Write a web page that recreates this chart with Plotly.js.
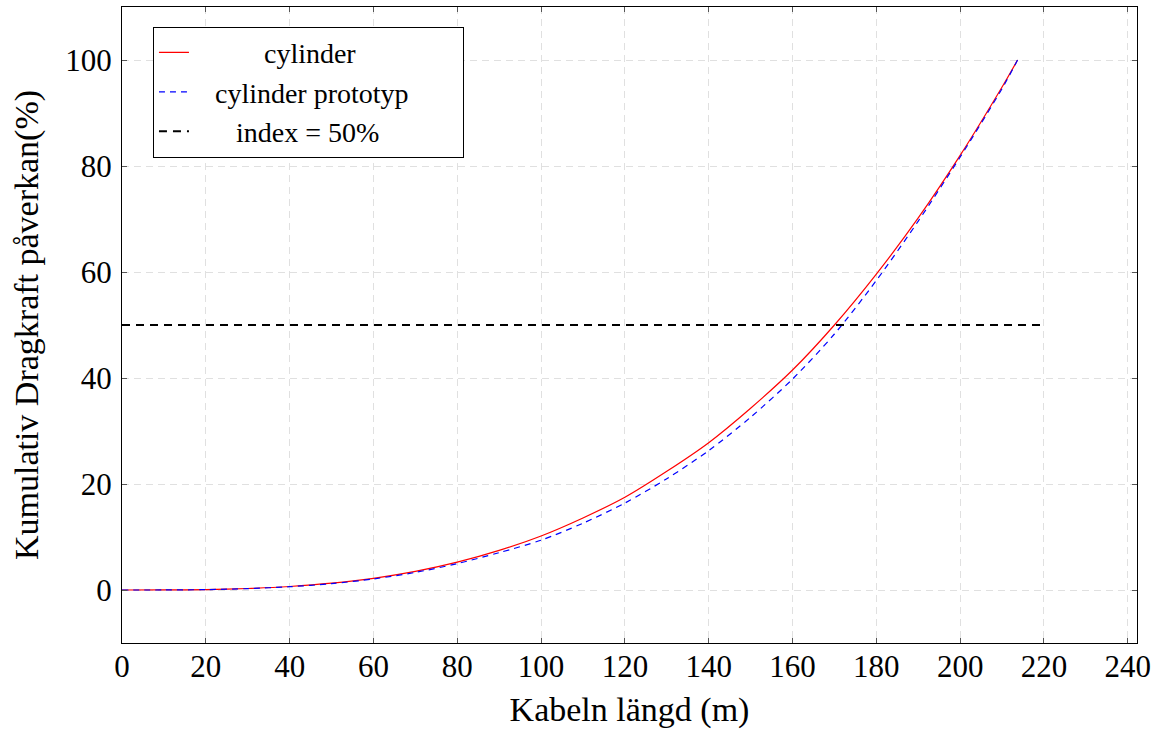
<!DOCTYPE html>
<html>
<head>
<meta charset="utf-8">
<script src="https://cdn.plot.ly/plotly-3.0.1.min.js"></script>
<style>html,body{margin:0;padding:0;background:#fff;}#chart{width:1161px;height:729px;}</style>
</head>
<body>
<div id="chart"></div>
<script>
// Cable length (m)
const cableLength = [0, 10, 20, 30, 40, 50, 60, 70, 80, 90, 100, 110, 120, 130, 140, 150, 160, 170, 180, 190, 200, 210, 213.7];
// Cumulative drag impact (%) - cylinder
const cylinder = [0, 0.01, 0.08, 0.28, 0.66, 1.28, 2.21, 3.51, 5.25, 7.47, 10.2, 13.6, 17.5, 22.4, 27.8, 34.3, 41.5, 50.0, 59.6, 70.2, 82.0, 94.9, 100];
// Cumulative drag impact (%) - cylinder prototyp
const cylinderPrototyp = [0, 0.01, 0.07, 0.26, 0.62, 1.2, 2.08, 3.32, 4.98, 7.05, 9.4, 12.6, 16.4, 21.0, 26.3, 32.6, 39.8, 48.3, 58.4, 69.6, 81.7, 94.6, 100];
// Reference index line
const indexX = [0, 220];
const indexY = [50, 50];
const xTicks = [0, 20, 40, 60, 80, 100, 120, 140, 160, 180, 200, 220, 240];
const yTicks = [0, 20, 40, 60, 80, 100];

const NB = '\u00a0';
const pad = n => NB.repeat(n);

const traces = [
  {x: cableLength, y: cylinder, type: 'scatter', mode: 'lines',
   name: pad(10) + 'cylinder',
   line: {color: '#ff0000', width: 1.2, shape: 'spline', smoothing: 0.8}},
  {x: cableLength, y: cylinderPrototyp, type: 'scatter', mode: 'lines',
   name: pad(3) + 'cylinder prototyp' + pad(7),
   line: {color: '#0000ff', width: 1.2, dash: '6px,5px', shape: 'spline', smoothing: 0.8}},
  {x: indexX, y: indexY, type: 'scatter', mode: 'lines',
   name: pad(6) + 'index = 50%',
   line: {color: '#000000', width: 2, dash: '8px,6px'}}
];

const fontFam = '"Liberation Serif", "DejaVu Serif", serif';
const axisCommon = {
  showline: true, linecolor: '#000', linewidth: 1, mirror: 'ticks',
  ticks: 'inside', ticklen: 5, tickcolor: '#555', tickwidth: 1,
  showgrid: true, gridcolor: '#e0e0e0', gridwidth: 1, griddash: '7px,5px',
  zeroline: false,
  tickfont: {family: fontFam, size: 31, color: '#000'}
};

const layout = {
  width: 1161, height: 729,
  margin: {l: 122, r: 24, t: 7, b: 86},
  paper_bgcolor: '#fff', plot_bgcolor: '#fff',
  font: {family: fontFam, color: '#000'},
  showlegend: true,
  xaxis: Object.assign({}, axisCommon, {
    range: [0, 242.2], tickmode: 'array', tickvals: xTicks,
    ticklabelstandoff: -4,
    title: {text: 'Kabeln längd (m)', font: {family: fontFam, size: 34, color: '#000'}, standoff: 14}
  }),
  yaxis: Object.assign({}, axisCommon, {
    range: [-10, 110], tickmode: 'array', tickvals: yTicks,
    ticklabelstandoff: 3,
    title: {text: 'Kumulativ Dragkraft påverkan(%)', font: {family: fontFam, size: 34, color: '#000'}, standoff: 16}
  }),
  legend: {
    x: 0.0305, y: 0.969, xanchor: 'left', yanchor: 'top',
    bgcolor: '#fff', bordercolor: '#000', borderwidth: 1,
    font: {family: fontFam, size: 28, color: '#000'},
    tracegroupgap: 0
  }
};

Plotly.newPlot('chart', traces, layout, {staticPlot: true, displayModeBar: false});
</script>
</body>
</html>
